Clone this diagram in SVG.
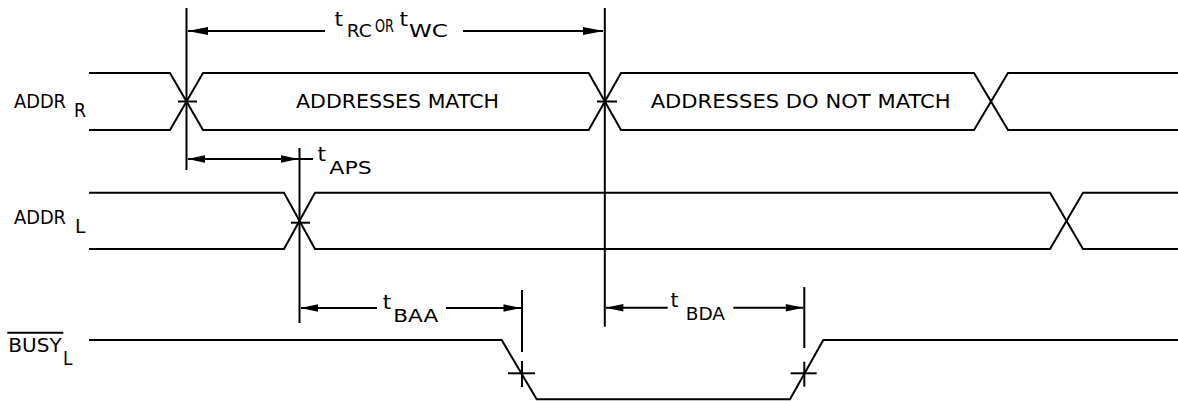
<svg xmlns="http://www.w3.org/2000/svg" width="1178" height="401" viewBox="0 0 1178 401">
<style>
.w{fill:none;stroke:#000;stroke-width:2;stroke-linejoin:miter}
.d{fill:none;stroke:#000;stroke-width:2}
.ah{fill:#000;stroke:none}
text{font-family:"DejaVu Sans","Liberation Sans",Arial,sans-serif;fill:#000}
.lb{font-size:19px}
.tm{font-size:19px}
.sb{font-size:17px}
</style>
<rect width="1178" height="401" fill="#fff"/>
<g id="addr-r">
<path class="w" d="M89,73 H170 L203,130 H588.7 L621,73 H974 L1008,130 H1178"/>
<path class="w" d="M89,130 H170 L203,73 H588.7 L621,130 H974 L1008,73 H1178"/>
<text class="lb" x="14" y="108.3" textLength="52" lengthAdjust="spacingAndGlyphs">ADDR</text>
<text class="lb" x="74" y="116.7" textLength="12" lengthAdjust="spacingAndGlyphs">R</text>
<text class="lb" x="296" y="108" textLength="203" lengthAdjust="spacingAndGlyphs">ADDRESSES MATCH</text>
<text class="lb" x="650.7" y="108" textLength="300" lengthAdjust="spacingAndGlyphs">ADDRESSES DO NOT MATCH</text>
</g>
<g id="addr-l">
<path class="w" d="M89,192.7 H284 L315,249 H1050 L1083,192.7 H1178"/>
<path class="w" d="M89,249 H284 L315,192.7 H1050 L1083,249 H1178"/>
<text class="lb" x="14" y="224" textLength="52" lengthAdjust="spacingAndGlyphs">ADDR</text>
<text class="lb" x="75" y="232.5" textLength="10.5" lengthAdjust="spacingAndGlyphs">L</text>
</g>
<g id="busy-l">
<path class="w" d="M89,340 H501.7 L536.7,399.3 H790 L823.3,340 H1178"/>
<text class="lb" x="8.3" y="351.7" textLength="53.4" lengthAdjust="spacingAndGlyphs">BUSY</text>
<line class="d" x1="7.3" y1="332.7" x2="63.3" y2="332.7"/>
<text class="lb" x="63" y="365" textLength="9.5" lengthAdjust="spacingAndGlyphs">L</text>
</g>
<g id="connectors">
<line class="d" x1="186.5" y1="8" x2="186.5" y2="170"/>
<line class="d" x1="604.8" y1="8" x2="604.8" y2="326.7"/>
<line class="d" x1="299.5" y1="148" x2="299.5" y2="323"/>
<line class="d" x1="522" y1="290" x2="522" y2="352"/>
<line class="d" x1="804.3" y1="287" x2="804.3" y2="348"/>
<line class="d" x1="178" y1="101.5" x2="197" y2="101.5"/>
<line class="d" x1="597" y1="101.5" x2="617" y2="101.5"/>
<line class="d" x1="291" y1="222.7" x2="310" y2="222.7"/>
<line class="d" x1="508" y1="373.3" x2="535" y2="373.3"/>
<line class="d" x1="522" y1="361" x2="522" y2="387"/>
<line class="d" x1="790.7" y1="373.3" x2="816.7" y2="373.3"/>
<line class="d" x1="804.3" y1="361.7" x2="804.3" y2="386.7"/>
<line class="d" x1="188" y1="31" x2="325" y2="31"/>
<line class="d" x1="463" y1="31" x2="603" y2="31"/>
<polygon class="ah" points="187.5,31 208,27 208,35"/>
<polygon class="ah" points="603.8,31 583,27 583,35"/>
<line class="d" x1="188" y1="159" x2="313" y2="159"/>
<polygon class="ah" points="187.5,159 205,155.3 205,162.7"/>
<polygon class="ah" points="298.5,159 281,155.3 281,162.7"/>
<line class="d" x1="301" y1="308" x2="377" y2="308"/>
<line class="d" x1="446" y1="308" x2="521" y2="308"/>
<polygon class="ah" points="300.5,308 318,304.3 318,311.7"/>
<polygon class="ah" points="521,308 503.5,304.3 503.5,311.7"/>
<line class="d" x1="606" y1="307.7" x2="667.7" y2="307.7"/>
<line class="d" x1="733.3" y1="307.7" x2="803.3" y2="307.7"/>
<polygon class="ah" points="605.8,307.7 623.3,304 623.3,311.4"/>
<polygon class="ah" points="803.3,307.7 785.8,304 785.8,311.4"/>
</g>
<g id="timing-labels">
<text class="tm" x="334.5" y="25.5" textLength="8.5" lengthAdjust="spacingAndGlyphs">t</text>
<text class="sb" x="346.7" y="37.3" textLength="25" lengthAdjust="spacingAndGlyphs">RC</text>
<text class="sb" x="375" y="31.7" textLength="19" lengthAdjust="spacingAndGlyphs">OR</text>
<text class="tm" x="399.5" y="25.5" textLength="8.5" lengthAdjust="spacingAndGlyphs">t</text>
<text class="sb" x="409" y="37.3" textLength="39" lengthAdjust="spacingAndGlyphs">WC</text>
<text class="tm" x="317.5" y="160.5" textLength="8.5" lengthAdjust="spacingAndGlyphs">t</text>
<text class="sb" x="329.3" y="174.3" textLength="42.4" lengthAdjust="spacingAndGlyphs">APS</text>
<text class="tm" x="382.8" y="308.8" textLength="8.5" lengthAdjust="spacingAndGlyphs">t</text>
<text class="sb" x="393.3" y="322.3" textLength="45" lengthAdjust="spacingAndGlyphs">BAA</text>
<text class="tm" x="670.5" y="307.2" textLength="8" lengthAdjust="spacingAndGlyphs">t</text>
<text class="sb" x="685.7" y="320" textLength="39.3" lengthAdjust="spacingAndGlyphs">BDA</text>
</g>
</svg>
